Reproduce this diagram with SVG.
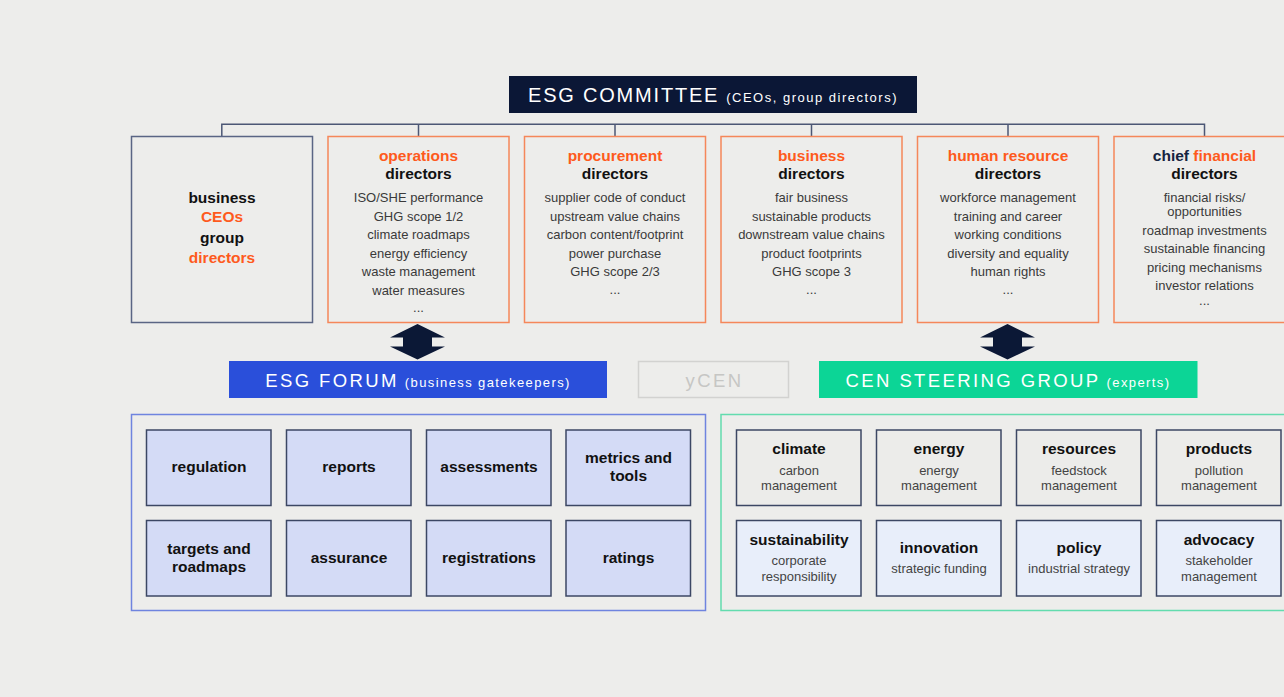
<svg xmlns="http://www.w3.org/2000/svg" width="1284" height="697" viewBox="0 0 1284 697">
  <style>
    .bg { fill: #ededeb; }
    .lead { fill: none; stroke: #4c5775; stroke-width: 1.5; }
    .box-ceo { fill: none; stroke: #5a6584; stroke-width: 1.5; }
    .box-dir { fill: none; stroke: #f5875a; stroke-width: 1.5; }
    .t { font-family: "Liberation Sans", Arial, Helvetica, sans-serif; text-anchor: middle; }
    .hd { font-size: 15.5px; font-weight: bold; fill: #111111; }
    .or { fill: #fe5a1d; }
    .nv { fill: #15233f; }
    .it { font-size: 13px; fill: #3a3a3a; }
    .bar-title { font-size: 18.5px; fill: #ffffff; letter-spacing: 2.4px; }
    .bar-sub { font-size: 13px; fill: #ffffff; letter-spacing: 1.4px; }
    .arrow { fill: #0b1836; }
    .cell-f { fill: #d4dbf6; stroke: #3c4764; stroke-width: 1.5; }
    .cell-s1 { fill: #ececea; stroke: #3c4764; stroke-width: 1.5; }
    .cell-s2 { fill: #e8eefa; stroke: #3c4764; stroke-width: 1.5; }
    .ct { font-size: 15.5px; font-weight: bold; fill: #111111; }
    .cs { font-size: 13px; fill: #444444; }
  </style>

  <rect class="bg" x="0" y="0" width="1284" height="697"/>

  <!-- committee header -->
  <g id="esg-committee">
    <rect x="509" y="76" width="408" height="37" fill="#0b1736"/>
    <text class="t" x="713" y="102" fill="#ffffff"><tspan font-size="20px" letter-spacing="1.8px">ESG COMMITTEE</tspan><tspan font-size="13px" letter-spacing="1.5px" dx="7">(CEOs, group directors)</tspan></text>
  </g>

  <!-- connectors from the committee line down to each director box -->
  <g id="connectors">
    <path class="lead" d="M221.8 124.3 H1204.5 M221.8 123.6 V136.5 M418.5 123.6 V136.5 M615 123.6 V136.5 M811.5 123.6 V136.5 M1008 123.6 V136.5 M1204.5 123.6 V136.5"/>
    <!-- two-way arrows between the director row and the forum bars -->
    <path class="arrow" d="M417.5 324 L445 337.5 L432 337.5 L432 346.5 L445 346.5 L417.5 359.5 L390 346.5 L403 346.5 L403 337.5 L390 337.5 Z"/>
    <path class="arrow" d="M1007.5 324 L1035 337.5 L1022 337.5 L1022 346.5 L1035 346.5 L1007.5 359.5 L980 346.5 L993 346.5 L993 337.5 L980 337.5 Z"/>
  </g>

  <g id="ceos">
    <rect class="box-ceo" x="131.5" y="136.5" width="181" height="186"/>
    <text class="t hd" x="222" y="202.5">business</text>
    <text class="t hd or" x="222" y="221.5">CEOs</text>
    <text class="t hd" x="222" y="243">group</text>
    <text class="t hd or" x="222" y="262.5">directors</text>
  </g>

  <g id="operations">
    <rect class="box-dir" x="328" y="136.5" width="181" height="186"/>
    <text class="t hd or" x="418.5" y="160.5">operations</text>
    <text class="t hd" x="418.5" y="178.5">directors</text>
    <text class="t it" x="418.5" y="202">ISO/SHE performance</text>
    <text class="t it" x="418.5" y="220.5">GHG scope 1/2</text>
    <text class="t it" x="418.5" y="239">climate roadmaps</text>
    <text class="t it" x="418.5" y="257.5">energy efficiency</text>
    <text class="t it" x="418.5" y="276">waste management</text>
    <text class="t it" x="418.5" y="294.5">water measures</text>
    <text class="t it" x="418.5" y="312">...</text>
  </g>

  <g id="procurement">
    <rect class="box-dir" x="524.5" y="136.5" width="181" height="186"/>
    <text class="t hd or" x="615" y="160.5">procurement</text>
    <text class="t hd" x="615" y="178.5">directors</text>
    <text class="t it" x="615" y="202">supplier code of conduct</text>
    <text class="t it" x="615" y="220.5">upstream value chains</text>
    <text class="t it" x="615" y="239">carbon content/footprint</text>
    <text class="t it" x="615" y="257.5">power purchase</text>
    <text class="t it" x="615" y="276">GHG scope 2/3</text>
    <text class="t it" x="615" y="293.5">...</text>
  </g>

  <g id="business">
    <rect class="box-dir" x="721" y="136.5" width="181" height="186"/>
    <text class="t hd or" x="811.5" y="160.5">business</text>
    <text class="t hd" x="811.5" y="178.5">directors</text>
    <text class="t it" x="811.5" y="202">fair business</text>
    <text class="t it" x="811.5" y="220.5">sustainable products</text>
    <text class="t it" x="811.5" y="239">downstream value chains</text>
    <text class="t it" x="811.5" y="257.5">product footprints</text>
    <text class="t it" x="811.5" y="276">GHG scope 3</text>
    <text class="t it" x="811.5" y="293.5">...</text>
  </g>

  <g id="human-resource">
    <rect class="box-dir" x="917.5" y="136.5" width="181" height="186"/>
    <text class="t hd or" x="1008" y="160.5">human resource</text>
    <text class="t hd" x="1008" y="178.5">directors</text>
    <text class="t it" x="1008" y="202">workforce management</text>
    <text class="t it" x="1008" y="220.5">training and career</text>
    <text class="t it" x="1008" y="239">working conditions</text>
    <text class="t it" x="1008" y="257.5">diversity and equality</text>
    <text class="t it" x="1008" y="276">human rights</text>
    <text class="t it" x="1008" y="293.5">...</text>
  </g>

  <g id="chief-financial">
    <rect class="box-dir" x="1114" y="136.5" width="181" height="186"/>
    <text class="t hd" x="1204.5" y="160.5"><tspan class="nv">chief</tspan> <tspan class="or">financial</tspan></text>
    <text class="t hd" x="1204.5" y="178.5">directors</text>
    <text class="t it" x="1204.5" y="202">financial risks/</text>
    <text class="t it" x="1204.5" y="215.5">opportunities</text>
    <text class="t it" x="1204.5" y="234.5">roadmap investments</text>
    <text class="t it" x="1204.5" y="253">sustainable financing</text>
    <text class="t it" x="1204.5" y="271.5">pricing mechanisms</text>
    <text class="t it" x="1204.5" y="290">investor relations</text>
    <text class="t it" x="1204.5" y="305">...</text>
  </g>

  <!-- forum bars -->
  <g id="esg-forum">
    <rect x="229" y="361" width="378" height="37" fill="#2a4fda"/>
    <text class="t" x="418" y="386.5"><tspan class="bar-title">ESG FORUM</tspan><tspan class="bar-sub" dx="6">(business gatekeepers)</tspan></text>
  </g>

  <g id="ycen">
    <rect x="638.5" y="361.5" width="150" height="36" fill="none" stroke="#d2d2d0" stroke-width="1.5"/>
    <text class="t bar-title" x="714.5" y="386.5" style="fill:#c6c6c4">yCEN</text>
  </g>

  <g id="cen-steering-group">
    <rect x="819" y="361" width="378.5" height="37" fill="#0cd596"/>
    <text class="t" x="1008" y="386.5"><tspan class="bar-title">CEN STEERING GROUP</tspan><tspan class="bar-sub" dx="6">(experts)</tspan></text>
  </g>

  <!-- ESG forum topics -->
  <g id="forum-panel">
    <rect x="131.5" y="414.5" width="574" height="196" fill="none" stroke="#6f84df" stroke-width="1.5"/>
  </g>
  <g id="regulation">
    <rect class="cell-f" x="146.5" y="430" width="124.5" height="75.5"/>
    <text class="t ct" x="209" y="471.5">regulation</text>
  </g>
  <g id="reports">
    <rect class="cell-f" x="286.5" y="430" width="124.5" height="75.5"/>
    <text class="t ct" x="349" y="471.5">reports</text>
  </g>
  <g id="assessments">
    <rect class="cell-f" x="426.5" y="430" width="124.5" height="75.5"/>
    <text class="t ct" x="489" y="471.5">assessments</text>
  </g>
  <g id="metrics-and-tools">
    <rect class="cell-f" x="566" y="430" width="124.5" height="75.5"/>
    <text class="t ct" x="628.5" y="462.5">metrics and</text>
    <text class="t ct" x="628.5" y="480.5">tools</text>
  </g>
  <g id="targets-and-roadmaps">
    <rect class="cell-f" x="146.5" y="520.5" width="124.5" height="75.5"/>
    <text class="t ct" x="209" y="553.5">targets and</text>
    <text class="t ct" x="209" y="571.5">roadmaps</text>
  </g>
  <g id="assurance">
    <rect class="cell-f" x="286.5" y="520.5" width="124.5" height="75.5"/>
    <text class="t ct" x="349" y="562.5">assurance</text>
  </g>
  <g id="registrations">
    <rect class="cell-f" x="426.5" y="520.5" width="124.5" height="75.5"/>
    <text class="t ct" x="489" y="562.5">registrations</text>
  </g>
  <g id="ratings">
    <rect class="cell-f" x="566" y="520.5" width="124.5" height="75.5"/>
    <text class="t ct" x="628.5" y="562.5">ratings</text>
  </g>

  <!-- CEN steering group topics -->
  <g id="steering-panel">
    <rect x="721" y="414.5" width="580" height="196" fill="none" stroke="#63dcae" stroke-width="1.5"/>
  </g>
  <g id="climate">
    <rect class="cell-s1" x="736.5" y="430" width="124.5" height="75.5"/>
    <text class="t ct" x="799" y="453.5">climate</text>
    <text class="t cs" x="799" y="474.5">carbon</text>
    <text class="t cs" x="799" y="490">management</text>
  </g>
  <g id="energy">
    <rect class="cell-s1" x="876.5" y="430" width="124.5" height="75.5"/>
    <text class="t ct" x="939" y="453.5">energy</text>
    <text class="t cs" x="939" y="474.5">energy</text>
    <text class="t cs" x="939" y="490">management</text>
  </g>
  <g id="resources">
    <rect class="cell-s1" x="1016.5" y="430" width="124.5" height="75.5"/>
    <text class="t ct" x="1079" y="453.5">resources</text>
    <text class="t cs" x="1079" y="474.5">feedstock</text>
    <text class="t cs" x="1079" y="490">management</text>
  </g>
  <g id="products">
    <rect class="cell-s1" x="1156.5" y="430" width="124.5" height="75.5"/>
    <text class="t ct" x="1219" y="453.5">products</text>
    <text class="t cs" x="1219" y="474.5">pollution</text>
    <text class="t cs" x="1219" y="490">management</text>
  </g>
  <g id="sustainability">
    <rect class="cell-s2" x="736.5" y="520.5" width="124.5" height="75.5"/>
    <text class="t ct" x="799" y="544.5">sustainability</text>
    <text class="t cs" x="799" y="565">corporate</text>
    <text class="t cs" x="799" y="581">responsibility</text>
  </g>
  <g id="innovation">
    <rect class="cell-s2" x="876.5" y="520.5" width="124.5" height="75.5"/>
    <text class="t ct" x="939" y="552.5">innovation</text>
    <text class="t cs" x="939" y="573">strategic funding</text>
  </g>
  <g id="policy">
    <rect class="cell-s2" x="1016.5" y="520.5" width="124.5" height="75.5"/>
    <text class="t ct" x="1079" y="552.5">policy</text>
    <text class="t cs" x="1079" y="573">industrial strategy</text>
  </g>
  <g id="advocacy">
    <rect class="cell-s2" x="1156.5" y="520.5" width="124.5" height="75.5"/>
    <text class="t ct" x="1219" y="544.5">advocacy</text>
    <text class="t cs" x="1219" y="565">stakeholder</text>
    <text class="t cs" x="1219" y="581">management</text>
  </g>
</svg>
